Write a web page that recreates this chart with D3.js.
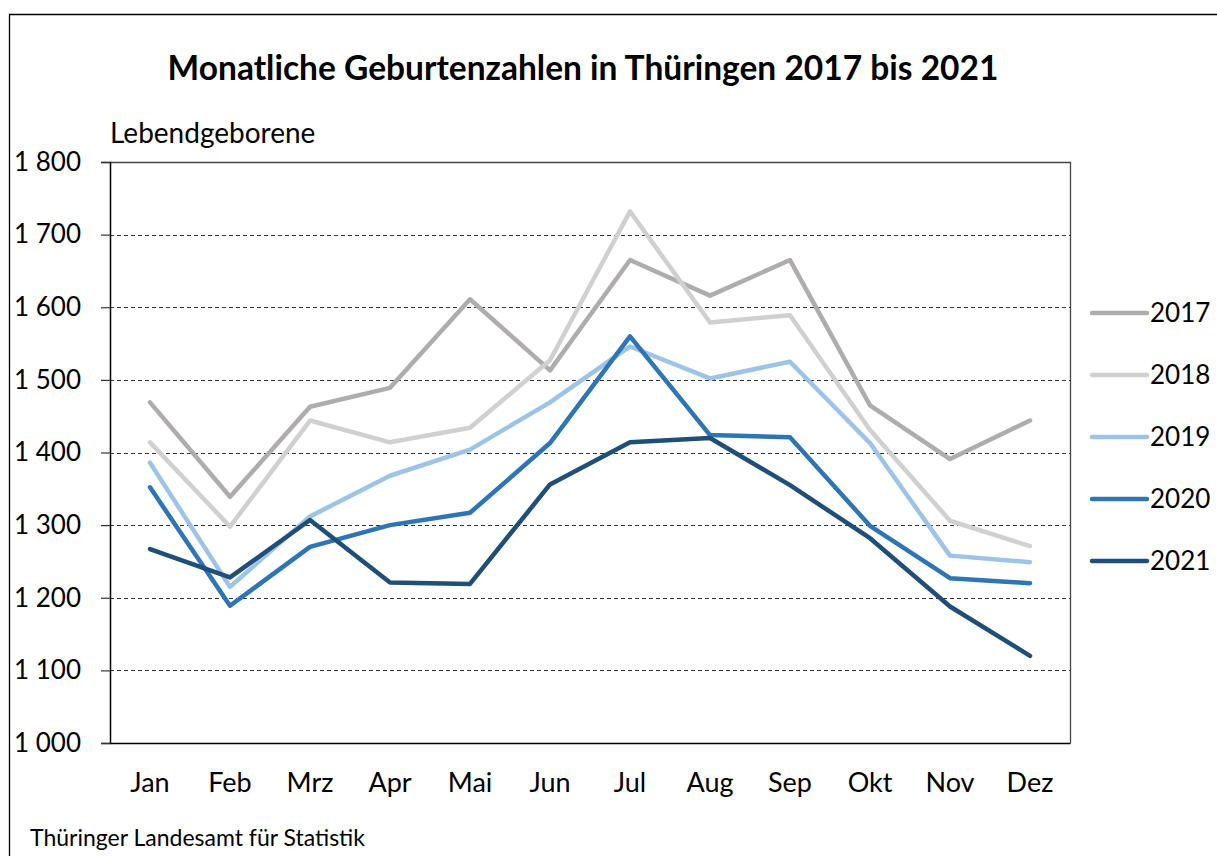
<!DOCTYPE html>
<html><head><meta charset="utf-8">
<script src="https://cdn.jsdelivr.net/npm/d3@7"></script>
<style>body{margin:0;background:#fff}svg{display:block;font-family:Lato,"Noto Sans",sans-serif}</style>
</head><body>
<svg id="c" width="1217" height="856"></svg>
<script>
const months = ["Jan","Feb","Mrz","Apr","Mai","Jun","Jul","Aug","Sep","Okt","Nov","Dez"];
const years = ["2017","2018","2019","2020","2021"];
const v2017 = [1469,1339,1463,1489,1611,1513,1665,1616,1665,1465,1391,1444];
const v2018 = [1414,1298,1444,1414,1434,1527,1732,1579,1589,1431,1306,1271];
const v2019 = [1386,1215,1312,1368,1404,1469,1546,1502,1525,1413,1258,1249];
const v2020 = [1352,1189,1270,1300,1317,1413,1560,1424,1421,1299,1227,1220];
const v2021 = [1267,1228,1307,1221,1219,1356,1414,1420,1355,1282,1188,1120];
const yTicks = [1000,1100,1200,1300,1400,1500,1600,1700,1800];
const colors = ["#afacac","#d0d0d0","#9dc3e6","#2e75b6","#1f4e79"];
const series = [v2017,v2018,v2019,v2020,v2021];

const svg = d3.select("#c");
const L=110,R=1070,T=162,B=743;
const x = d3.scaleBand().domain(months).range([L,R]);
const y = d3.scaleLinear().domain([1000,1800]).range([B,T]);
const fmt = d => d3.format(",")(d).replace(",", "\u00a0");

// outer frame
svg.append("path").attr("d","M9.5,860V14.5H1230").attr("fill","none").attr("stroke","#000").attr("stroke-width",1.3);

// title
svg.append("text").attr("x",583).attr("y",80).attr("text-anchor","middle")
  .attr("font-size",33.5).attr("font-weight","bold").text("Monatliche Geburtenzahlen in Thüringen 2017 bis 2021");
svg.append("text").attr("x",110).attr("y",143).attr("font-size",28).text("Lebendgeborene");
svg.append("text").attr("x",30).attr("y",846).attr("font-size",23).text("Thüringer Landesamt für Statistik");

// gridlines
svg.append("g").selectAll("line").data(yTicks.filter(d=>d>1000&&d<1800)).join("line")
  .attr("x1",L).attr("x2",R).attr("y1",d=>Math.round(y(d))+0.5).attr("y2",d=>Math.round(y(d))+0.5)
  .attr("stroke","#333").attr("stroke-dasharray","4,3").attr("stroke-width",1.2);
// plot border top/right
svg.append("path").attr("d",`M${L},${T+0.5}H${R+0.5}V${B}`).attr("fill","none").attr("stroke","#444").attr("stroke-width",1.3);

// y axis
const ya = svg.append("g").attr("transform",`translate(${L},0)`)
  .call(d3.axisLeft(y).tickValues(yTicks).tickFormat(fmt).tickSize(9).tickPadding(20));
ya.attr("font-family",null).attr("font-size",null);
ya.select(".domain").attr("stroke","#000").attr("stroke-width",1.5);
ya.selectAll(".tick line").attr("stroke","#333").attr("stroke-width",1.2);
ya.selectAll("text").attr("font-size",26).attr("fill","#000");

// x axis
const xa = svg.append("g").attr("transform",`translate(0,${B})`)
  .call(d3.axisBottom(x).tickSize(0).tickPadding(30));
xa.attr("font-family",null).attr("font-size",null);
xa.select(".domain").attr("stroke","#000").attr("stroke-width",1.5);
xa.selectAll("text").attr("font-size",27).attr("fill","#000");

// lines
const line = d3.line().x((d,i)=>x(months[i])+x.bandwidth()/2).y(d=>y(d));
svg.append("g").selectAll("path").data(series).join("path")
  .attr("d",line).attr("fill","none").attr("stroke",(d,i)=>colors[i])
  .attr("stroke-width",4.5).attr("stroke-linejoin","round").attr("stroke-linecap","round");

// legend
const lg = svg.append("g").selectAll("g").data(years).join("g")
  .attr("transform",(d,i)=>`translate(1092,${313+i*62})`);
lg.append("line").attr("x1",0).attr("x2",55).attr("stroke",(d,i)=>colors[i]).attr("stroke-width",4.5).attr("stroke-linecap","round");
lg.append("text").attr("x",58).attr("y",9).attr("font-size",26).text(d=>d);
</script>
</body></html>
